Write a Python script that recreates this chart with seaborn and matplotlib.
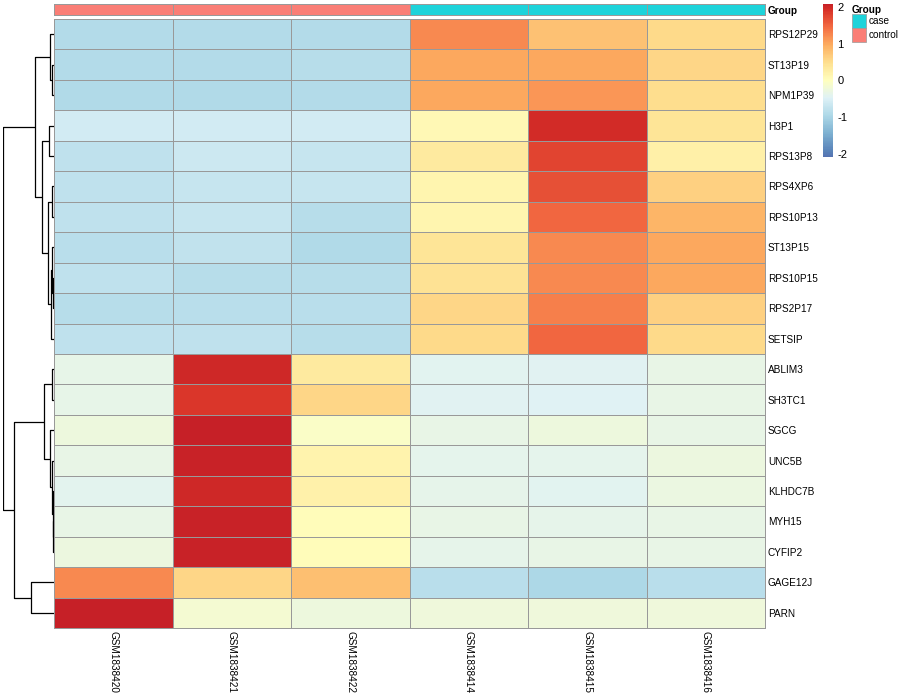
import numpy as np
import pandas as pd
import matplotlib
matplotlib.use("Agg")
import matplotlib.pyplot as plt
import seaborn as sns
from matplotlib.colors import ListedColormap
from matplotlib.patches import Rectangle

# --- data ---
genes = ["RPS12P29", "ST13P19", "NPM1P39", "H3P1", "RPS13P8", "RPS4XP6",
         "RPS10P13", "ST13P15", "RPS10P15", "RPS2P17", "SETSIP", "ABLIM3",
         "SH3TC1", "SGCG", "UNC5B", "KLHDC7B", "MYH15", "CYFIP2", "GAGE12J", "PARN"]
samples = ["GSM1838420", "GSM1838421", "GSM1838422",
           "GSM1838414", "GSM1838415", "GSM1838416"]
groups = ["control", "control", "control", "case", "case", "case"]

values = [
    [-0.88, -0.90, -0.90, 1.22, 0.78, 0.54],
    [-0.90, -0.90, -0.86, 1.00, 1.02, 0.58],
    [-0.92, -0.92, -0.88, 1.00, 1.15, 0.50],
    [-0.60, -0.60, -0.60, 0.10, 1.95, 0.40],
    [-0.77, -0.66, -0.70, 0.33, 1.77, 0.23],
    [-0.77, -0.70, -0.70, 0.16, 1.66, 0.62],
    [-0.77, -0.70, -0.85, 0.16, 1.51, 0.90],
    [-0.83, -0.76, -0.92, 0.40, 1.22, 1.02],
    [-0.77, -0.85, -0.85, 0.45, 1.22, 1.00],
    [-0.86, -0.83, -0.83, 0.58, 1.30, 0.62],
    [-0.77, -0.77, -0.85, 0.52, 1.51, 0.54],
    [-0.35, 2.01, 0.33, -0.41, -0.45, -0.33],
    [-0.35, 1.87, 0.58, -0.45, -0.46, -0.33],
    [-0.25, 2.07, -0.05, -0.33, -0.25, -0.33],
    [-0.33, 2.05, 0.17, -0.38, -0.38, -0.27],
    [-0.40, 2.00, 0.22, -0.36, -0.42, -0.29],
    [-0.33, 2.05, 0.04, -0.33, -0.36, -0.33],
    [-0.27, 2.05, 0.04, -0.36, -0.33, -0.33],
    [1.22, 0.58, 0.80, -0.83, -0.95, -0.83],
    [2.07, -0.15, -0.25, -0.24, -0.24, -0.24],
]

# row dendrogram: (left, right, height); ids >= 20 are earlier merges
merges = [
    (1, 2, 1.7), (0, 20, 4.0), (3, 4, 5.0), (5, 6, 2.0), (8, 9, 1.2),
    (7, 24, 2.2), (25, 10, 2.6), (23, 26, 5.7), (22, 27, 11.7), (21, 28, 19.0),
    (11, 12, 2.0), (16, 17, 1.0), (15, 31, 1.5), (14, 32, 1.8), (13, 33, 4.0),
    (30, 34, 10.0), (18, 19, 23.0), (35, 36, 40.0), (29, 37, 51.3),
]

group_colors = {"case": "#1DD3DA", "control": "#FA7E76"}

# --- style ---
sns.set_style("white")
plt.rcParams["font.family"] = ["Liberation Sans", "DejaVu Sans"]
plt.rcParams["text.color"] = "black"

W, H = 900, 700
fig = plt.figure(figsize=(9, 7), dpi=100)


def box(x0, y0, x1, y1):
    # pixel box (top-left origin) -> figure fraction
    return [x0 / W, 1 - y1 / H, (x1 - x0) / W, (y1 - y0) / H]


ax_hm = fig.add_axes(box(54, 19, 765, 628))
ax_ann = fig.add_axes(box(54, 4, 765, 15))
ax_den = fig.add_axes(box(2.7, 19, 54, 628))
cax = fig.add_axes(box(823, 4, 833, 157))

# blue end pulled slightly towards grey to match the softer blues
base = plt.get_cmap("RdYlBu_r")
cols = base(np.linspace(0.07, 0.93, 256))
grey = np.array([0.74, 0.78, 0.82, 1.0])
w = np.clip((0.5 - np.linspace(0, 1, 256)) * 2, 0, 1)[:, None] * 0.18
cols = cols * (1 - w) + grey * w
cmap = ListedColormap(cols)

df = pd.DataFrame(values, index=genes, columns=samples)
sns.heatmap(df, ax=ax_hm, cmap=cmap, vmin=-2.08, vmax=2.08,
            linewidths=0.5, linecolor="#999999", cbar_ax=cax)
ax_hm.collections[0].set_clip_on(False)

ax_hm.yaxis.tick_right()
ax_hm.set_yticks(np.arange(len(genes)) + 0.5)
ax_hm.set_yticklabels(genes, rotation=0, fontsize=7.2)
ax_hm.set_xticks(np.arange(len(samples)) + 0.5)
ax_hm.set_xticklabels(samples, rotation=270, fontsize=7.2, va="top", ha="center")
ax_hm.tick_params(length=0, pad=2, labelcolor="black")
ax_hm.set_xlabel("")
ax_hm.set_ylabel("")

# colorbar
cbar = ax_hm.collections[0].colorbar
cbar.outline.set_visible(False)
cbar.set_ticks([-2, -1, 0, 1, 2])
cbar.set_ticklabels(["-2", "-1", "0", "1", "2"])
cax.tick_params(length=0, labelsize=8, pad=3, labelcolor="black")

# annotation bar
levels = ["case", "control"]
ann = pd.DataFrame([[levels.index(g) for g in groups]], columns=samples)
sns.heatmap(ann, ax=ax_ann, cmap=ListedColormap([group_colors[l] for l in levels]),
            vmin=-0.5, vmax=1.5, cbar=False, linewidths=0.5, linecolor="#999999")
ax_ann.collections[0].set_clip_on(False)
ax_ann.set_xticks([])
ax_ann.yaxis.tick_right()
ax_ann.set_yticks([0.5])
ax_ann.set_yticklabels(["Group"], rotation=0, fontsize=7.2, fontweight="bold")
ax_ann.tick_params(length=0, pad=2, labelcolor="black")
ax_ann.set_xlabel("")
ax_ann.set_ylabel("")

# dendrogram
n = len(genes)
pos = {i: (i + 0.5, 0.0) for i in range(n)}
for k, (a, b, h) in enumerate(merges):
    ya, ha = pos[a]
    yb, hb = pos[b]
    ax_den.plot([ha, h, h, hb], [ya, ya, yb, yb], color="black", lw=0.9,
                solid_capstyle="butt")
    pos[n + k] = ((ya + yb) / 2, h)
ax_den.set_ylim(n, 0)
ax_den.set_xlim(merges[-1][2], 0)
ax_den.axis("off")

# legend
fig.text(852 / W, 1 - 10 / H, "Group", fontsize=7.2, fontweight="bold", va="center")
for i, lev in enumerate(levels):
    y0 = 14 + 14 * i
    fig.add_artist(Rectangle((852 / W, 1 - (y0 + 14) / H), 14 / W, 14 / H,
                             facecolor=group_colors[lev], edgecolor="#999999",
                             lw=0.5, transform=fig.transFigure))
    fig.text(869 / W, 1 - (y0 + 7) / H, lev, fontsize=7.2, va="center")

fig.savefig("out.png", dpi=100)
